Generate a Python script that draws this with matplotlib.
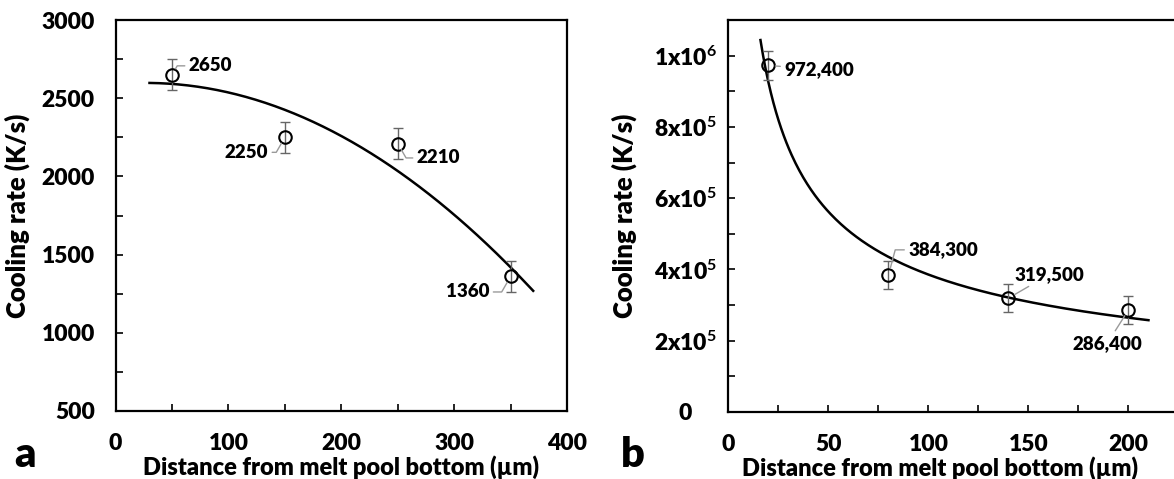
import numpy as np
import matplotlib
matplotlib.use('Agg')
import matplotlib.pyplot as plt
from matplotlib.ticker import MultipleLocator, FixedLocator, FixedFormatter

plt.rcParams['font.family'] = ['Lato', 'DejaVu Sans']
plt.rcParams['font.weight'] = 'bold'
plt.rcParams['mathtext.fontset'] = 'custom'
plt.rcParams['mathtext.rm'] = 'Lato:bold'
plt.rcParams['mathtext.bf'] = 'Lato:bold'
plt.rcParams['mathtext.default'] = 'bf'

# panel a data
dist_a = [50, 150, 250, 350]
rate_a = [2650, 2250, 2210, 1360]
err_a = [100, 100, 100, 100]
labels_a = ['2650', '2250', '2210', '1360']

# panel b data
dist_b = [20, 80, 140, 200]
rate_b = [972400, 384300, 319500, 286400]
err_b = [40000, 40000, 40000, 40000]
labels_b = ['972,400', '384,300', '319,500', '286,400']
yticks_b = [0, 2e5, 4e5, 6e5, 8e5, 1e6]
ytick_labels_b = ['0', '2x10$^{5}$', '4x10$^{5}$', '6x10$^{5}$', '8x10$^{5}$', '1x10$^{6}$']

XLABEL = 'Distance from melt pool bottom (\u00b5m)'
YLABEL = 'Cooling rate (K/s)'

fig = plt.figure(figsize=(11.74, 4.79), dpi=100)
ax1 = fig.add_axes([0.0985, 0.142, 0.3845, 0.8162])
ax2 = fig.add_axes([0.6205, 0.1399, 0.4259, 0.8183])

lead = dict(arrowstyle='-', color='#9a9a9a', lw=1.0, shrinkA=1, shrinkB=5)


def style_axes(ax, ypad=15, ylabelpad=8):
    for s in ax.spines.values():
        s.set_linewidth(1.6)
    ax.tick_params(which='both', direction='in', length=5, width=1.2,
                   top=False, right=False, labelsize=16.5)
    ax.tick_params(axis='y', pad=ypad)
    ax.tick_params(axis='x', pad=16)
    for t in ax.get_xticklabels() + ax.get_yticklabels():
        t.set_fontweight('heavy')
    ax.set_xlabel(XLABEL, fontsize=17, fontweight='heavy', labelpad=1)
    ax.set_ylabel(YLABEL, fontsize=18.5, fontweight='heavy', labelpad=ylabelpad)


# ---- panel a: quadratic trend
coef_a = np.polyfit(dist_a, rate_a, 2)
xa = np.linspace(30, 370, 200)
ax1.plot(xa, np.polyval(coef_a, xa), color='black', lw=1.8)
ax1.errorbar(dist_a, rate_a, yerr=err_a, fmt='none', ecolor='#666666',
             elinewidth=1.0, capsize=3.5, capthick=1.0)
ax1.plot(dist_a, rate_a, 'o', mfc='none', mec='black', mew=1.5, ms=9)
ax1.set_xlim(0, 400)
ax1.set_ylim(500, 3000)
ax1.xaxis.set_major_locator(MultipleLocator(100))
ax1.xaxis.set_minor_locator(MultipleLocator(50))
ax1.yaxis.set_major_locator(MultipleLocator(500))
ax1.yaxis.set_minor_locator(MultipleLocator(250))

ann_a = [((65, 2707), 'left', 'angle,angleA=0,angleB=60,rad=0'),
         ((135, 2154), 'right', 'angle,angleA=0,angleB=60,rad=0'),
         ((267, 2118), 'left', 'angle,angleA=0,angleB=120,rad=0'),
         ((331, 1261), 'right', 'angle,angleA=0,angleB=60,rad=0')]
for (pos, ha, cs), x, y, lab in zip(ann_a, dist_a, rate_a, labels_a):
    ax1.annotate(lab, xy=(x, y), xytext=pos, ha=ha, va='center',
                 fontsize=13.5, fontweight='heavy',
                 arrowprops=dict(lead, connectionstyle=cs))
style_axes(ax1)

# ---- panel b: power-law trend
pb = np.polyfit(np.log(dist_b), np.log(rate_b), 1)
xb = np.linspace(16, 210, 300)
ax2.plot(xb, np.exp(np.polyval(pb, np.log(xb))), color='black', lw=1.8)
ax2.errorbar(dist_b, rate_b, yerr=err_b, fmt='none', ecolor='#666666',
             elinewidth=1.0, capsize=3.5, capthick=1.0)
ax2.plot(dist_b, rate_b, 'o', mfc='none', mec='black', mew=1.5, ms=9)
ax2.set_xlim(0, 250)
ax2.set_ylim(0, 1.1e6)
ax2.xaxis.set_major_locator(FixedLocator([0, 50, 100, 150, 200]))
ax2.xaxis.set_minor_locator(MultipleLocator(25))
ax2.yaxis.set_major_locator(FixedLocator(yticks_b))
ax2.yaxis.set_major_formatter(FixedFormatter(ytick_labels_b))
ax2.yaxis.set_minor_locator(MultipleLocator(1e5))

ann_b = [((28, 9.62e5), 'left', 'arc3'),
         ((90, 4.55e5), 'left', 'angle,angleA=0,angleB=75,rad=0'),
         ((143, 3.86e5), 'left', 'arc3'),
         ((172, 1.93e5), 'left', 'arc3')]
for (pos, ha, cs), x, y, lab in zip(ann_b, dist_b, rate_b, labels_b):
    ax2.annotate(lab, xy=(x, y), xytext=pos, ha=ha, va='center',
                 fontsize=13.5, fontweight='heavy',
                 arrowprops=dict(lead, connectionstyle=cs))
style_axes(ax2, ypad=31, ylabelpad=12)
for t in ax2.get_yticklabels():
    t.set_horizontalalignment('center')
# the frame runs past the right edge; centre the label on the visible part
ax2.xaxis.label.set_x(0.423)

fig.text(0.012, 0.025, 'a', fontsize=30, fontweight='heavy')
fig.text(0.529, 0.025, 'b', fontsize=30, fontweight='heavy')

fig.savefig('out.png', dpi=100)
